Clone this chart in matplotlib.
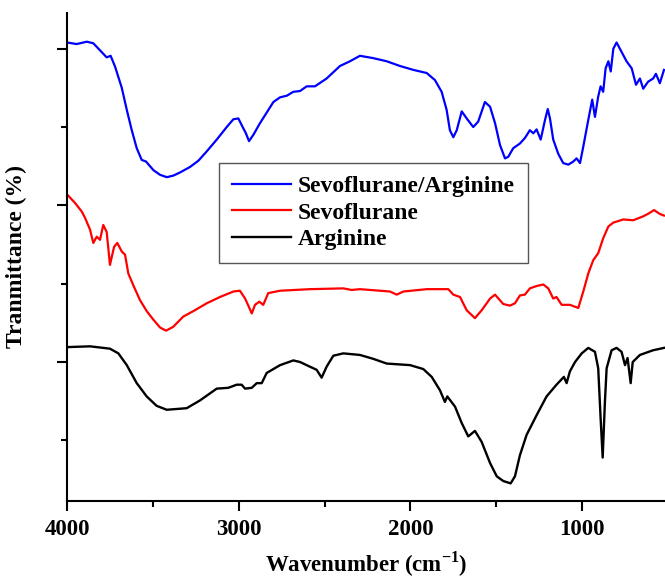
import matplotlib
matplotlib.use("Agg")
import matplotlib.pyplot as plt
from matplotlib.ticker import MultipleLocator, NullFormatter

plt.rcParams['font.family'] = ['Liberation Serif', 'DejaVu Serif']
plt.rcParams['font.weight'] = 'bold'
plt.rcParams['mathtext.fontset'] = 'custom'
plt.rcParams['mathtext.bf'] = 'Liberation Serif:bold'
plt.rcParams['mathtext.rm'] = 'Liberation Serif:bold'

# Sevoflurane/Arginine (blue)
wn_sa = [4000, 3944, 3885, 3847, 3808, 3769, 3746, 3720, 3681, 3652, 3623, 3594,
         3565, 3540, 3497, 3458, 3419, 3381, 3342, 3284, 3235, 3186, 3128, 3070,
         3031, 3002, 2977, 2958, 2940, 2915, 2876, 2847, 2798, 2759, 2720, 2682,
         2643, 2604, 2556, 2488, 2410, 2352, 2294, 2216, 2138, 2061, 1983, 1905,
         1857, 1818, 1789, 1770, 1750, 1730, 1701, 1672, 1634, 1605, 1566, 1536,
         1507, 1478, 1449, 1430, 1401, 1362, 1333, 1304, 1284, 1265, 1241, 1216,
         1200, 1187, 1168, 1139, 1110, 1080, 1051, 1032, 1012, 993, 964, 941,
         925, 906, 892, 877, 863, 847, 833, 818, 799, 770, 741, 711, 686, 663,
         644, 615, 586, 570, 547, 523]
t_sa = [4.08, 4.06, 4.09, 4.07, 3.98, 3.89, 3.91, 3.77, 3.50, 3.22, 2.96, 2.73,
        2.58, 2.56, 2.45, 2.39, 2.36, 2.38, 2.42, 2.49, 2.57, 2.69, 2.84, 3.00,
        3.10, 3.11, 3.00, 2.92, 2.82, 2.90, 3.05, 3.15, 3.32, 3.38, 3.40, 3.45,
        3.46, 3.52, 3.52, 3.62, 3.78, 3.84, 3.91, 3.88, 3.84, 3.78, 3.73, 3.69,
        3.60, 3.45, 3.22, 2.96, 2.87, 2.96, 3.20, 3.11, 3.00, 3.07, 3.32, 3.26,
        3.05, 2.77, 2.60, 2.62, 2.73, 2.79, 2.86, 2.96, 2.92, 2.97, 2.84, 3.09,
        3.23, 3.11, 2.84, 2.66, 2.54, 2.52, 2.56, 2.60, 2.54, 2.75, 3.09, 3.35,
        3.13, 3.39, 3.52, 3.45, 3.75, 3.84, 3.71, 4.00, 4.08, 3.96, 3.84, 3.75,
        3.54, 3.62, 3.49, 3.58, 3.62, 3.68, 3.56, 3.73]

# Sevoflurane (red)
wn_s = [4000, 3953, 3914, 3895, 3866, 3847, 3827, 3808, 3789, 3769, 3750, 3726,
        3707, 3681, 3662, 3643, 3614, 3575, 3536, 3497, 3458, 3423, 3381, 3323,
        3264, 3186, 3109, 3031, 2993, 2963, 2944, 2924, 2905, 2880, 2857, 2828,
        2759, 2585, 2391, 2342, 2294, 2119, 2080, 2041, 1905, 1779, 1750, 1711,
        1672, 1624, 1585, 1536, 1507, 1459, 1420, 1391, 1362, 1333, 1304, 1265,
        1226, 1197, 1168, 1149, 1119, 1071, 1022, 993, 964, 935, 906, 877, 847,
        818, 760, 702, 644, 609, 581, 547, 523]
t_s = [2.14, 2.03, 1.92, 1.84, 1.69, 1.52, 1.60, 1.56, 1.75, 1.66, 1.24, 1.47,
       1.52, 1.41, 1.37, 1.13, 0.98, 0.79, 0.65, 0.54, 0.44, 0.40, 0.45, 0.58,
       0.65, 0.75, 0.83, 0.90, 0.91, 0.81, 0.72, 0.62, 0.73, 0.77, 0.73, 0.88,
       0.91, 0.93, 0.94, 0.92, 0.93, 0.90, 0.86, 0.90, 0.93, 0.93, 0.86, 0.83,
       0.66, 0.56, 0.66, 0.81, 0.86, 0.74, 0.72, 0.75, 0.85, 0.86, 0.94, 0.97,
       0.99, 0.94, 0.81, 0.83, 0.73, 0.73, 0.69, 0.90, 1.13, 1.30, 1.39, 1.58,
       1.73, 1.78, 1.82, 1.81, 1.86, 1.90, 1.94, 1.89, 1.87]

# Arginine (black)
wn_a = [4000, 3866, 3750, 3701, 3652, 3594, 3536, 3478, 3419, 3303, 3225, 3128,
        3061, 3012, 2983, 2963, 2924, 2895, 2866, 2837, 2759, 2682, 2643, 2595,
        2546, 2517, 2488, 2449, 2391, 2294, 2216, 2138, 2002, 1925, 1876, 1828,
        1799, 1785, 1740, 1701, 1663, 1624, 1585, 1536, 1497, 1459, 1416, 1391,
        1362, 1323, 1265, 1207, 1149, 1106, 1090, 1071, 1041, 1002, 964, 925,
        906, 892, 880, 867, 857, 828, 799, 770, 750, 735, 717, 705, 663, 586, 523]
t_a = [0.19, 0.20, 0.17, 0.11, -0.04, -0.27, -0.44, -0.56, -0.61, -0.59, -0.49, -0.34,
       -0.33, -0.29, -0.29, -0.34, -0.33, -0.27, -0.27, -0.14, -0.04, 0.02, 0.00, -0.05,
       -0.10, -0.20, -0.06, 0.08, 0.11, 0.09, 0.04, -0.02, -0.04, -0.09, -0.19, -0.36,
       -0.51, -0.44, -0.57, -0.78, -0.95, -0.88, -1.02, -1.29, -1.46, -1.52, -1.55, -1.46,
       -1.19, -0.93, -0.68, -0.44, -0.29, -0.19, -0.27, -0.12, 0.00, 0.11, 0.18, 0.13,
       -0.08, -0.72, -1.22, -0.51, -0.08, 0.15, 0.18, 0.13, -0.04, 0.05, -0.27, 0.00,
       0.09, 0.15, 0.18]

fig = plt.figure(figsize=(6.65, 5.81), dpi=100)
ax = fig.add_axes([0.1008, 0.1377, 0.8992, 0.84])

ax.plot(wn_sa, t_sa, color='#0000ff', lw=1.6, label='Sevoflurane/Arginine')
ax.plot(wn_s, t_s, color='#ff0000', lw=1.6, label='Sevoflurane')
ax.plot(wn_a, t_a, color='black', lw=1.7, label='Arginine')

ax.set_xlim(4000, 517)
ax.set_ylim(-1.775, 4.457)

ax.xaxis.set_major_locator(MultipleLocator(1000))
ax.xaxis.set_minor_locator(MultipleLocator(500))
ax.yaxis.set_major_locator(MultipleLocator(2))
ax.yaxis.set_minor_locator(MultipleLocator(1))
ax.yaxis.set_major_formatter(NullFormatter())

ax.spines['top'].set_visible(False)
ax.spines['right'].set_visible(False)
for s in ['left', 'bottom']:
    ax.spines[s].set_linewidth(1.5)
ax.tick_params(which='major', direction='out', length=7, width=1.5, labelsize=16.5, pad=6)
ax.tick_params(which='minor', direction='out', length=4, width=1.5)

ax.set_xlabel('Wavenumber (cm$^{-1}$)', fontsize=16.5, fontweight='bold', labelpad=7)
ax.set_ylabel('Tranmittance (%)', fontsize=17, fontweight='bold', labelpad=16)

leg = ax.legend(loc='upper left', bbox_to_anchor=(0.254, 0.693), borderaxespad=0,
                fancybox=False, edgecolor='#555555', framealpha=1,
                prop={'family': 'Liberation Serif', 'weight': 'bold', 'size': 17},
                handlelength=2.5, handletextpad=0.3, labelspacing=0.2,
                borderpad=0.55)
leg.get_frame().set_linewidth(1.0)

fig.savefig('out.png', dpi=100)
